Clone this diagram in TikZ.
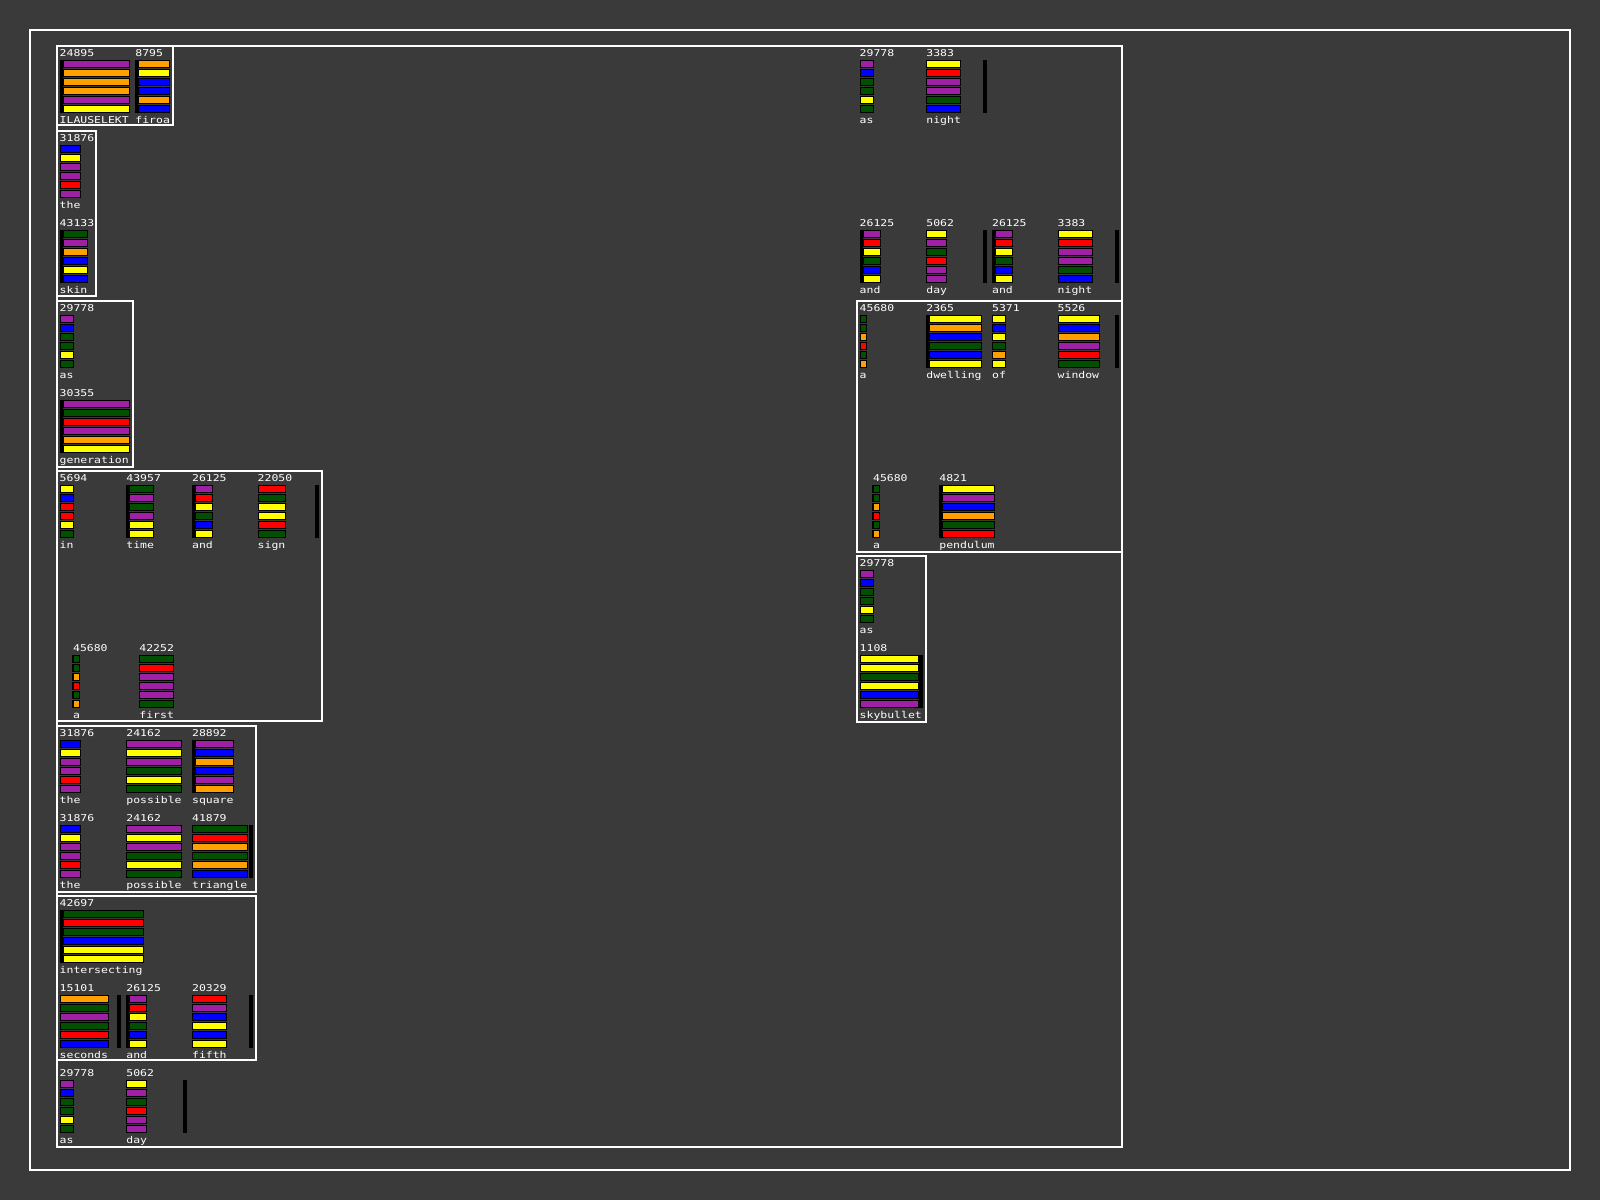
\documentclass[tikz,border=0pt]{standalone}
\usepackage{fontspec}
\newfontfamily\pix[FakeStretch=1.22]{DejaVu Sans Mono}
\definecolor{bgc}{RGB}{58,58,58}
\definecolor{cP}{RGB}{160,32,165}
\definecolor{cO}{RGB}{255,160,0}
\definecolor{cY}{RGB}{255,255,0}
\definecolor{cB}{RGB}{0,0,255}
\definecolor{cR}{RGB}{255,0,0}
\definecolor{cG}{RGB}{0,80,0}
\tikzset{
  frame/.style={draw=white, line width=0.9},
  numtxt/.style={text=white, inner sep=0pt, anchor=base west, font=\pix\fontsize{4.7pt}{5pt}\selectfont},
  labtxt/.style={numtxt},
  barstyle/.style={draw=black, line width=0.7},
}
% bars of one cell: x1, x2, R, colours
\newcommand\cellbars[4]{%
  \foreach \cc [count=\k from 0] in {#4}{
    \filldraw[barstyle, fill=\cc] ({#1+0.35},{#3+11.05+9*\k}) rectangle ({#2-0.35},{#3+18.05+9*\k});
  }}
% full cell: name, text x, R, x1, x2, colours, number, label
\newcommand\cell[8]{%
  \node[numtxt] (#1n) at (#2,{#3+6.7}) {#7};
  \node[labtxt] (#1l) at (#2,{#3+73.7}) {#8};
  \cellbars{#4}{#5}{#3}{#6}}
\newcommand\stripe[2]{\fill[black] (#1,{#2+10.7}) rectangle ({#1+3.3},{#2+63.4});}
\newcommand\sepbar[2]{\fill[black] (#1,{#2+10.7}) rectangle ({#1+4},{#2+63.4});}
\begin{document}
\begin{tikzpicture}[x=0.5pt,y=-0.5pt]
\useasboundingbox (0,0) rectangle (1600,1200);
\fill[bgc] (0,0) rectangle (1600,1200);
% frames
\draw[frame] (30.3,30.3) rectangle (1570.3,1170.3);
\draw[frame] (57.3,46.3) rectangle (1121.7,1147.3);
\draw[frame] (57.3,46.3) rectangle (172.7,125.3);
\draw[frame] (57.3,131) rectangle (95.7,295.7);
\draw[frame] (57.3,301.3) rectangle (132.7,467.3);
\draw[frame] (57.3,471.3) rectangle (321.7,720.7);
\draw[frame] (57.3,726.3) rectangle (255.7,892.3);
\draw[frame] (57.3,896.3) rectangle (255.7,1060.3);
\draw[frame] (857.3,301.3) rectangle (1121.7,552.3);
\draw[frame] (857.3,556.3) rectangle (925.7,722.3);
% ---------- left column ----------
\stripe{60}{49.3}
\cell{a1}{59.3}{49.3}{63.3}{129.7}{cP,cO,cO,cO,cP,cY}{24895}{ILAUSELEKT}
\stripe{135}{49.3}
\cell{a2}{135}{49.3}{138.3}{169.7}{cO,cY,cB,cB,cO,cB}{8795}{firoa}
\cell{b1}{59.3}{134.3}{60}{81}{cB,cY,cP,cP,cR,cP}{31876}{the}
\stripe{60}{219.3}
\cell{c1}{59.3}{219.3}{63.3}{87.7}{cG,cP,cO,cB,cY,cB}{43133}{skin}
\cell{d1}{59.3}{304.3}{60}{74}{cP,cB,cG,cG,cY,cG}{29778}{as}
\stripe{60}{389.3}
\cell{e1}{59.3}{389.3}{63.3}{129.7}{cP,cG,cR,cP,cO,cY}{30355}{generation}
\cell{f1}{59.3}{474.3}{60}{74}{cY,cB,cR,cR,cY,cG}{5694}{in}
\stripe{126}{474.3}
\cell{f2}{126}{474.3}{129.3}{153.7}{cG,cP,cG,cP,cY,cY}{43957}{time}
\stripe{192}{474.3}
\cell{f3}{191.7}{474.3}{195.3}{213}{cP,cR,cY,cG,cB,cY}{26125}{and}
\cell{f4}{257.3}{474.3}{258}{286}{cR,cG,cY,cY,cR,cG}{22050}{sign}
\sepbar{315}{474.3}
\cell{h1}{72.7}{644.3}{72.7}{80}{cG,cG,cO,cR,cG,cO}{45680}{a}
\cell{h2}{139}{644.3}{139}{174}{cG,cR,cP,cP,cP,cG}{42252}{first}
\cell{i1}{59.3}{729.3}{60}{81}{cB,cY,cP,cP,cR,cP}{31876}{the}
\cell{i2}{126}{729.3}{126}{182}{cP,cY,cP,cG,cY,cG}{24162}{possible}
\stripe{192}{729.3}
\cell{i3}{191.7}{729.3}{195.3}{234}{cP,cB,cO,cB,cP,cO}{28892}{square}
\cell{j1}{59.3}{814.3}{60}{81}{cB,cY,cP,cP,cR,cP}{31876}{the}
\cell{j2}{126}{814.3}{126}{182}{cP,cY,cP,cG,cY,cG}{24162}{possible}
\cell{j3}{191.7}{814.3}{192}{248}{cG,cR,cO,cG,cO,cB}{41879}{triangle}
\sepbar{249}{814.3}
\stripe{60}{899.3}
\cell{k1}{59.3}{899.3}{63.3}{144}{cG,cR,cG,cB,cY,cY}{42697}{intersecting}
\cell{l1}{59.3}{984.3}{60}{109}{cO,cG,cP,cG,cR,cB}{15101}{seconds}
\sepbar{117}{984.3}
\stripe{126}{984.3}
\cell{l2}{126}{984.3}{129.3}{147}{cP,cR,cY,cG,cB,cY}{26125}{and}
\cell{l3}{191.7}{984.3}{192}{227}{cR,cP,cB,cY,cB,cY}{20329}{fifth}
\sepbar{249}{984.3}
\cell{m1}{59.3}{1069.3}{60}{74}{cP,cB,cG,cG,cY,cG}{29778}{as}
\cell{m2}{126}{1069.3}{126}{147}{cY,cP,cG,cR,cP,cP}{5062}{day}
\sepbar{183}{1069.3}
% ---------- right column ----------
\cell{ra1}{859.3}{49.3}{860}{874}{cP,cB,cG,cG,cY,cG}{29778}{as}
\cell{ra2}{926}{49.3}{926}{961}{cY,cR,cP,cP,cG,cB}{3383}{night}
\sepbar{983}{49.3}
\stripe{860}{219.3}
\cell{rc1}{859.3}{219.3}{863.3}{881}{cP,cR,cY,cG,cB,cY}{26125}{and}
\cell{rc2}{926}{219.3}{926}{947}{cY,cP,cG,cR,cP,cP}{5062}{day}
\sepbar{983}{219.3}
\stripe{992}{219.3}
\cell{rc3}{991.7}{219.3}{995.3}{1013}{cP,cR,cY,cG,cB,cY}{26125}{and}
\cell{rc4}{1057.3}{219.3}{1058}{1093}{cY,cR,cP,cP,cG,cB}{3383}{night}
\sepbar{1115}{219.3}
\cell{rd1}{859.3}{304.3}{860}{867}{cG,cG,cO,cR,cG,cO}{45680}{a}
\stripe{926}{304.3}
\cell{rd2}{926}{304.3}{929.3}{982}{cY,cO,cB,cG,cB,cY}{2365}{dwelling}
\cell{rd3}{991.7}{304.3}{992}{1006}{cY,cB,cY,cG,cO,cY}{5371}{of}
\cell{rd4}{1057.3}{304.3}{1058}{1100}{cY,cB,cO,cP,cR,cG}{5526}{window}
\sepbar{1115}{304.3}
\cell{rf1}{872.7}{474.3}{872.7}{880}{cG,cG,cO,cR,cG,cO}{45680}{a}
\stripe{939}{474.3}
\cell{rf2}{939}{474.3}{942.3}{994.7}{cY,cP,cB,cO,cG,cR}{4821}{pendulum}
\cell{rg1}{859.3}{559.3}{860}{874}{cP,cB,cG,cG,cY,cG}{29778}{as}
\fill[black] (919.3,655) rectangle (923,707.7);
\cell{rh1}{859.3}{644.3}{860}{919.3}{cY,cY,cG,cY,cB,cP}{1108}{skybullet}
\end{tikzpicture}
\end{document}
